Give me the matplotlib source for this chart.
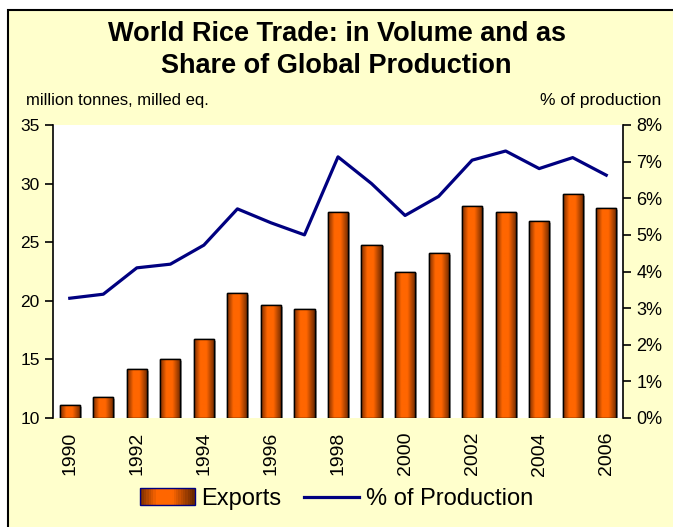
import numpy as np
import matplotlib
matplotlib.use("Agg")
import matplotlib.pyplot as plt
from matplotlib.colors import LinearSegmentedColormap
from matplotlib.patches import Rectangle
from matplotlib.lines import Line2D
from matplotlib.legend_handler import HandlerBase
from matplotlib.ticker import FuncFormatter

plt.rcParams["font.family"] = ["Liberation Sans", "DejaVu Sans"]

years = list(range(1990, 2007))
exports = [11.1, 11.8, 14.2, 15.05, 16.7, 20.65, 19.6, 19.3, 27.6, 24.8,
           22.5, 24.1, 28.1, 27.6, 26.8, 29.1, 27.9]
share_pct = [3.27, 3.38, 4.1, 4.2, 4.72, 5.71, 5.33, 5.0, 7.13, 6.4,
             5.53, 6.05, 7.04, 7.29, 6.81, 7.11, 6.63]

BG = "#FFFFCC"
NAVY = "#000080"
bar_cmap = LinearSegmentedColormap.from_list(
    "rust", [(0.0, "#7A2E00"), (0.3, "#FF6600"), (0.6, "#FF6600"), (1.0, "#6B2800")])


class GradientPatchHandler(HandlerBase):
    def create_artists(self, legend, orig_handle, xdescent, ydescent,
                       width, height, fontsize, trans):
        n = 24
        arts = []
        for i in range(n):
            r = Rectangle((-xdescent + width * i / n, -ydescent), width / n + 0.3, height,
                          facecolor=bar_cmap(i / (n - 1)), edgecolor="none", transform=trans)
            arts.append(r)
        arts.append(Rectangle((-xdescent, -ydescent), width, height, facecolor="none",
                              edgecolor=NAVY, lw=1.0, transform=trans))
        return arts


fig = plt.figure(figsize=(6.73, 5.27), dpi=100)
fig.patches.append(Rectangle((8 / 673, -0.1), 1.2, 1.1 - 10 / 527, transform=fig.transFigure,
                             facecolor=BG, edgecolor="black", lw=1.5, zorder=-10))

ax = fig.add_axes([53 / 673, 1 - 418 / 527, 570 / 673, 293 / 527])
ax.set_facecolor("white")
x = np.arange(len(years))

bars = ax.bar(x, exports, width=0.6, bottom=0, color="#FF6600", edgecolor="black",
              lw=1.0, zorder=2)
grad = np.linspace(0, 1, 64).reshape(1, -1)
for b in bars:
    x0, w, h = b.get_x(), b.get_width(), b.get_height()
    # faint drop shadow on the right side
    ax.add_patch(Rectangle((x0 + 0.06, 10), w, h - 10.15, facecolor="#B0B0B0",
                           edgecolor="none", zorder=1.5))
    im = ax.imshow(grad, cmap=bar_cmap, aspect="auto", extent=(x0, x0 + w, 10, h),
                   zorder=2.1, interpolation="bilinear")
    im.set_clip_path(b)
    ax.add_patch(Rectangle((x0, 10), w, h - 10, facecolor="none", edgecolor="black",
                           lw=1.0, zorder=2.2))

ax.set_xlim(-0.5, len(years) - 0.5)
ax.set_ylim(10, 35)
ax.set_yticks([10, 15, 20, 25, 30, 35])
ax.set_xticks(x[::2])
ax.set_xticklabels([str(y) for y in years[::2]], rotation=90, fontsize=14)
ax.tick_params(axis="x", length=0, pad=10)
ax.tick_params(axis="y", labelsize=12.5, length=6, width=1.2, direction="out")
for s in ["top", "bottom", "right"]:
    ax.spines[s].set_visible(False)
ax.spines["left"].set_linewidth(1.2)

ax2 = ax.twinx()
ax2.plot(x, share_pct, color=NAVY, lw=2.3, zorder=5)
ax2.set_ylim(0, 8)
ax2.set_yticks(range(0, 9))
ax2.yaxis.set_major_formatter(FuncFormatter(lambda v, p: f"{int(v)}%"))
ax2.tick_params(axis="y", labelsize=13, length=6, width=1.2, direction="out")
for s in ["top", "bottom", "left"]:
    ax2.spines[s].set_visible(False)
ax2.spines["right"].set_linewidth(1.2)

fig.text(0.5, 1 - 50 / 527, "World Rice Trade: in Volume and as\nShare of Global Production",
         ha="center", va="center", fontsize=19.5, fontweight="bold", linespacing=1.32)
fig.text(26 / 673, 1 - 100 / 527, "million tonnes, milled eq.", ha="left", va="center",
         fontsize=12)
fig.text(661 / 673, 1 - 100 / 527, "% of production", ha="right", va="center", fontsize=12.5)

handles = [Rectangle((0, 0), 1, 1), Line2D([], [], color=NAVY, lw=2.3)]
fig.legend(handles, ["Exports", "% of Production"], loc="center",
           bbox_to_anchor=(0.5, 1 - 499 / 527), ncol=2, frameon=False, fontsize=17,
           handler_map={Rectangle: GradientPatchHandler()}, handlelength=2.33,
           handleheight=0.72, columnspacing=0.95, handletextpad=0.3)

fig.savefig("out.png", dpi=100, facecolor="white")
